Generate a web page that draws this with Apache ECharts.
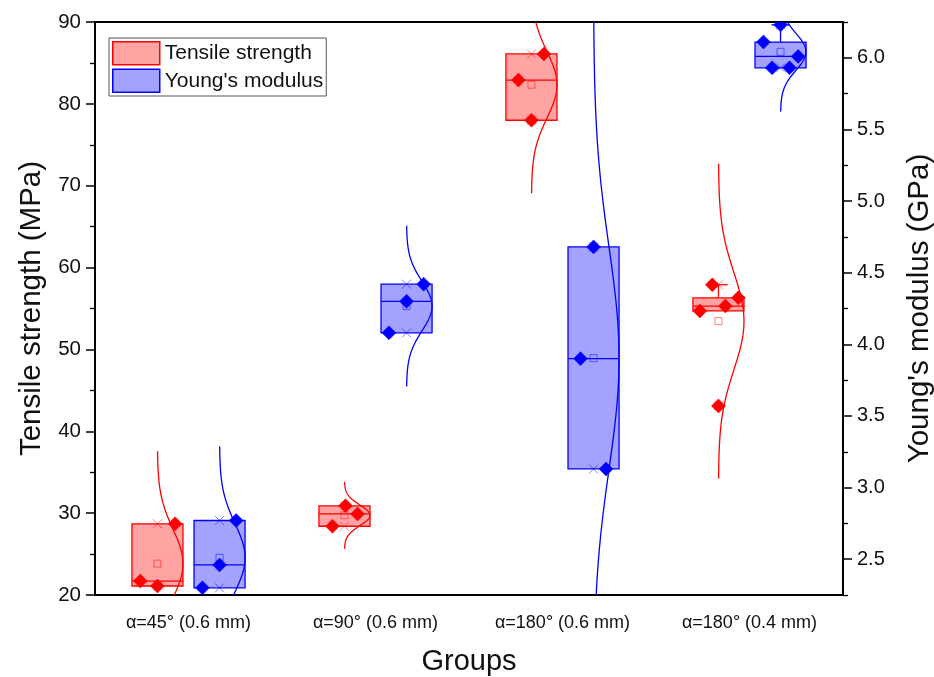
<!DOCTYPE html>
<html>
<head>
<meta charset="utf-8">
<script src="https://cdn.jsdelivr.net/npm/echarts@6/dist/echarts.min.js"></script>
<style>
  html, body { margin: 0; padding: 0; background: #fff; }
  #chart { width: 934px; height: 677px; }
</style>
</head>
<body>
<div id="chart"></div>
<script>
// ---- data ----
const categories = ['α=45° (0.6 mm)', 'α=90° (0.6 mm)', 'α=180° (0.6 mm)', 'α=180° (0.4 mm)'];

// individual specimens, tensile strength (MPa)
const tensileValues = [
  [28.7, 21.7, 21.1],
  [30.9, 29.9, 28.4],
  [86.1, 82.9, 78.0],
  [57.9, 56.3, 55.3, 54.7, 43.1]
];
// individual specimens, Young's modulus (GPa)
const modulusValues = [
  [2.77, 2.46, 2.30],
  [4.42, 4.30, 4.08],
  [4.68, 3.90, 3.13],
  [6.23, 6.11, 6.01, 5.93, 5.93]
];

// box: [lower quartile, median, upper quartile]
const tensileBox = [[21.1, 21.7, 28.7], [28.4, 29.9, 30.9], [78.0, 82.9, 86.1], [54.7, 55.3, 56.3]];
const modulusBox = [[2.30, 2.46, 2.77], [4.08, 4.30, 4.42], [3.13, 3.90, 4.68], [5.93, 6.01, 6.11]];
// whisker ends: [low, high]
const tensileWhisker = [[21.1, 28.7], [28.4, 30.9], [78.0, 86.1], [54.7, 57.9]];
const modulusWhisker = [[2.30, 2.77], [4.08, 4.42], [3.13, 4.68], [5.93, 6.23]];

// tick labels
const tensileTicks = [20, 30, 40, 50, 60, 70, 80, 90];
const modulusTicks = [2.5, 3.0, 3.5, 4.0, 4.5, 5.0, 5.5, 6.0];

// ---- layout / style constants ----
const BOX_WIDTH = 0.273;   // fraction of category band
const BOX_SHIFT = 0.166;   // box centre offset from band centre
const CURVE_SPAN = 3.25;   // normal curve drawn over mean ± span·sd
// horizontal spread of overlapping points, as a fraction of box half-width
const tensileJitter = [[0.69, -0.67, 0], [0.04, 0.51, -0.47], [0.49, -0.51, 0], [-0.24, 0.78, 0.27, -0.73, 0]];
const modulusJitter = [[0.65, 0, -0.67], [0.67, 0, -0.69], [0, -0.51, 0.49], [0, -0.67, 0.69, -0.33, 0.35]];

const RED = '#ff0000', BLUE = '#0000ff';
const RED_FILL = 'rgba(255,0,0,0.36)', BLUE_FILL = 'rgba(0,0,255,0.36)';
const RED_FAINT = 'rgba(255,0,0,0.5)', BLUE_FAINT = 'rgba(0,0,255,0.5)';
const FONT = 'Liberation Sans, Arial, sans-serif';
const TEXT = '#111';

function mean(a) { return a.reduce((s, v) => s + v, 0) / a.length; }
function sdev(a) {
  const m = mean(a);
  return Math.sqrt(a.reduce((s, v) => s + (v - m) * (v - m), 0) / (a.length - 1));
}

function geom(api, i, side) {
  const band = api.size([1, 0])[0];
  const half = band * BOX_WIDTH / 2;
  const cx = api.coord([i, 0])[0] + side * band * BOX_SHIFT;
  return { half, cx };
}

function boxRender(values, color, fill, faint, side) {
  return function (params, api) {
    const i = api.value(0);
    const { half, cx } = geom(api, i, side);
    const y = v => api.coord([i, v])[1];
    const yQ1 = y(api.value(1)), yMed = y(api.value(2)), yQ3 = y(api.value(3));
    const yLo = y(api.value(4)), yHi = y(api.value(5));
    const vals = values[i];
    const yMean = y(mean(vals));
    const yMin = y(Math.min.apply(null, vals)), yMax = y(Math.max.apply(null, vals));
    const cap = half * 0.36;
    const kids = [
      { type: 'rect', shape: { x: cx - half, y: yQ3, width: 2 * half, height: yQ1 - yQ3 },
        style: { fill: fill, stroke: color, lineWidth: 1.3 } },
      { type: 'line', shape: { x1: cx - half, y1: yMed, x2: cx + half, y2: yMed },
        style: { stroke: color, lineWidth: 1.3 } }
    ];
    if (yHi < yQ3 - 0.5) {
      kids.push({ type: 'line', shape: { x1: cx, y1: yQ3, x2: cx, y2: yHi }, style: { stroke: color, lineWidth: 1.3 } });
      kids.push({ type: 'line', shape: { x1: cx - cap, y1: yHi, x2: cx + cap, y2: yHi }, style: { stroke: color, lineWidth: 1.3 } });
    }
    if (yLo > yQ1 + 0.5) {
      kids.push({ type: 'line', shape: { x1: cx, y1: yQ1, x2: cx, y2: yLo }, style: { stroke: color, lineWidth: 1.3 } });
      kids.push({ type: 'line', shape: { x1: cx - cap, y1: yLo, x2: cx + cap, y2: yLo }, style: { stroke: color, lineWidth: 1.3 } });
    }
    // mean
    kids.push({ type: 'rect', shape: { x: cx - 3.5, y: yMean - 3.5, width: 7, height: 7 },
      style: { fill: 'none', stroke: faint, lineWidth: 1 } });
    // min / max crosses
    [yMin, yMax].forEach(function (yy) {
      kids.push({ type: 'line', shape: { x1: cx - 4.5, y1: yy - 4.5, x2: cx + 4.5, y2: yy + 4.5 }, style: { stroke: faint, lineWidth: 1 } });
      kids.push({ type: 'line', shape: { x1: cx - 4.5, y1: yy + 4.5, x2: cx + 4.5, y2: yy - 4.5 }, style: { stroke: faint, lineWidth: 1 } });
    });
    return { type: 'group', children: kids };
  };
}

function curveRender(values, color, side) {
  return function (params, api) {
    const i = api.value(0);
    const { half, cx } = geom(api, i, side);
    const vals = values[i];
    const m = mean(vals), s = sdev(vals);
    const pts = [];
    const steps = 120;
    for (let k = 0; k <= steps; k++) {
      const z = -CURVE_SPAN + 2 * CURVE_SPAN * k / steps;
      const v = m + z * s;
      pts.push([cx + half * Math.exp(-z * z / 2), api.coord([i, v])[1]]);
    }
    return { type: 'polyline', shape: { points: pts }, style: { fill: 'none', stroke: color, lineWidth: 1.3 } };
  };
}

function pointRender(jitter, color, side) {
  return function (params, api) {
    const i = api.value(0), j = api.value(2);
    const { half, cx } = geom(api, i, side);
    const x = cx + jitter[i][j] * half;
    const yy = api.coord([i, api.value(1)])[1];
    const r = 7;
    return { type: 'polygon', shape: { points: [[x, yy - r], [x + r, yy], [x, yy + r], [x - r, yy]] },
      style: { fill: color, stroke: color, lineWidth: 0.5 } };
  };
}

function flatPoints(values) {
  const out = [];
  values.forEach((g, i) => g.forEach((v, j) => out.push([i, v, j])));
  return out;
}

const chart = echarts.init(document.getElementById('chart'), null, { renderer: 'canvas' });

const axisLine = { show: true, lineStyle: { color: '#000', width: 1.5 } };

chart.setOption({
  animation: false,
  backgroundColor: '#fff',
  grid: {
    left: 95, right: 91, top: 22, bottom: 82,
    containLabel: false, outerBoundsMode: 'none',
    show: true, borderColor: '#000', borderWidth: 2, backgroundColor: 'transparent'
  },
  legend: {
    orient: 'vertical', left: 109, top: 38,
    itemWidth: 47, itemHeight: 23, itemGap: 3,
    padding: [3, 3, 3, 3],
    borderColor: '#555', borderWidth: 1,
    textStyle: { fontFamily: FONT, fontSize: 21, color: TEXT },
    selectedMode: false,
    data: [
      { name: 'Tensile strength', icon: 'rect', itemStyle: { color: RED_FILL, borderColor: RED, borderWidth: 1.5 } },
      { name: "Young's modulus", icon: 'rect', itemStyle: { color: BLUE_FILL, borderColor: BLUE, borderWidth: 1.5 } }
    ]
  },
  xAxis: {
    type: 'category', data: categories, boundaryGap: true,
    name: 'Groups', nameLocation: 'middle', nameGap: 52,
    nameTextStyle: { fontFamily: FONT, fontSize: 29, color: TEXT },
    axisLine: axisLine,
    axisTick: { alignWithLabel: true, length: 8, lineStyle: { color: '#000', width: 1.5 } },
    axisLabel: { fontFamily: FONT, fontSize: 18, color: TEXT, margin: 19 },
    splitLine: { show: false }
  },
  yAxis: [
    {
      type: 'value', min: 20, max: 90, interval: 10, position: 'left',
      name: 'Tensile strength (MPa)', nameLocation: 'middle', nameGap: 45,
      nameTextStyle: { fontFamily: FONT, fontSize: 29.5, color: TEXT },
      axisLine: axisLine,
      axisTick: { show: true, length: 9, lineStyle: { color: '#000', width: 1.5 } },
      minorTick: { show: true, splitNumber: 2, length: 5, lineStyle: { color: '#000', width: 1.3 } },
      axisLabel: { fontFamily: FONT, fontSize: 20.5, color: TEXT, margin: 14, customValues: tensileTicks },
      splitLine: { show: false }, minorSplitLine: { show: false }
    },
    {
      type: 'value', min: 2.25, max: 6.25, interval: 0.5, position: 'right',
      name: "Young's modulus (GPa)", nameLocation: 'middle', nameGap: 62,
      nameTextStyle: { fontFamily: FONT, fontSize: 29.5, color: TEXT },
      axisLine: axisLine,
      // quarter marks are the regular ticks, labelled half-GPa marks are drawn as the split ticks
      axisTick: { show: true, length: 5, lineStyle: { color: '#000', width: 1.3 } },
      minorTick: { show: true, splitNumber: 2, length: 9, lineStyle: { color: '#000', width: 1.5 } },
      axisLabel: { fontFamily: FONT, fontSize: 20, color: TEXT, margin: 14, customValues: modulusTicks,
        formatter: v => Number(v).toFixed(1) },
      splitLine: { show: false }, minorSplitLine: { show: false }
    }
  ],
  series: [
    {
      name: 'Tensile strength', type: 'custom', yAxisIndex: 0, clip: true, silent: true, z: 2,
      itemStyle: { color: RED_FILL, borderColor: RED },
      renderItem: boxRender(tensileValues, RED, RED_FILL, RED_FAINT, -1),
      encode: { x: 0, y: [1, 2, 3] },
      data: tensileBox.map((b, i) => [i, b[0], b[1], b[2], tensileWhisker[i][0], tensileWhisker[i][1]])
    },
    {
      name: "Young's modulus", type: 'custom', yAxisIndex: 1, clip: true, silent: true, z: 2,
      itemStyle: { color: BLUE_FILL, borderColor: BLUE },
      renderItem: boxRender(modulusValues, BLUE, BLUE_FILL, BLUE_FAINT, 1),
      encode: { x: 0, y: [1, 2, 3] },
      data: modulusBox.map((b, i) => [i, b[0], b[1], b[2], modulusWhisker[i][0], modulusWhisker[i][1]])
    },
    {
      name: 'tensile-curve', type: 'custom', yAxisIndex: 0, clip: true, silent: true, z: 3,
      renderItem: curveRender(tensileValues, RED, -1),
      encode: { x: 0, y: 1 },
      data: tensileValues.map((v, i) => [i, mean(v)])
    },
    {
      name: 'modulus-curve', type: 'custom', yAxisIndex: 1, clip: true, silent: true, z: 3,
      renderItem: curveRender(modulusValues, BLUE, 1),
      encode: { x: 0, y: 1 },
      data: modulusValues.map((v, i) => [i, mean(v)])
    },
    {
      name: 'tensile-points', type: 'custom', yAxisIndex: 0, clip: true, silent: true, z: 4,
      renderItem: pointRender(tensileJitter, RED, -1),
      encode: { x: 0, y: 1 },
      data: flatPoints(tensileValues)
    },
    {
      name: 'modulus-points', type: 'custom', yAxisIndex: 1, clip: true, silent: true, z: 4,
      renderItem: pointRender(modulusJitter, BLUE, 1),
      encode: { x: 0, y: 1 },
      data: flatPoints(modulusValues)
    }
  ]
});
</script>
</body>
</html>
